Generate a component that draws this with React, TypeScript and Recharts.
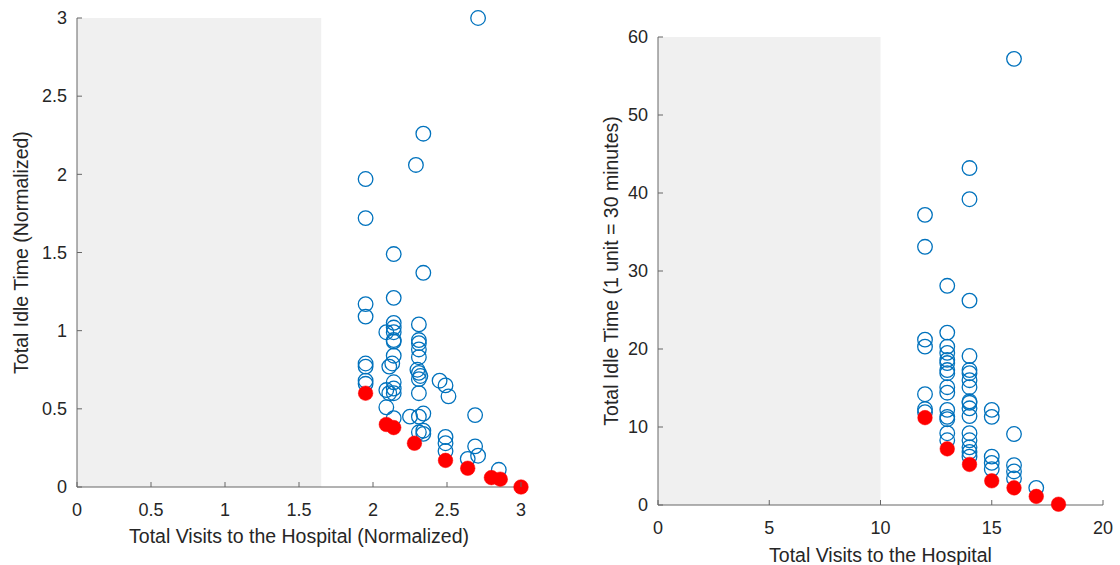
import { ScatterChart, Scatter, XAxis, YAxis, ReferenceArea } from 'recharts';

// left panel: normalized values
const leftBlueX = [
  2.71, 2.34, 2.29, 1.95, 1.95, 2.14, 2.34, 2.14, 1.95, 1.95, 1.95, 1.95, 1.95, 1.95,
  2.09, 2.11, 2.09, 2.11, 2.09, 2.14, 2.14, 2.14, 2.14, 2.14, 2.14, 2.13, 2.14, 2.14,
  2.14, 2.14, 2.31, 2.31, 2.31, 2.31, 2.31, 2.3, 2.31, 2.32, 2.31, 2.31, 2.31, 2.31,
  2.25, 2.34, 2.34, 2.34, 2.45, 2.49, 2.51, 2.49, 2.49, 2.49, 2.69, 2.69, 2.71, 2.64, 2.85,
];
const leftBlueY = [
  3.0, 2.26, 2.06, 1.97, 1.72, 1.49, 1.37, 1.21, 1.17, 1.09, 0.79, 0.77, 0.68, 0.66,
  0.99, 0.77, 0.62, 0.6, 0.51, 1.05, 1.02, 0.99, 0.94, 0.93, 0.84, 0.79, 0.67, 0.63,
  0.6, 0.44, 1.04, 0.94, 0.92, 0.88, 0.83, 0.75, 0.73, 0.71, 0.69, 0.6, 0.45, 0.35,
  0.45, 0.47, 0.36, 0.34, 0.68, 0.65, 0.58, 0.32, 0.28, 0.23, 0.46, 0.26, 0.2, 0.18, 0.11,
];
const leftRedX = [1.95, 2.09, 2.14, 2.28, 2.49, 2.64, 2.8, 2.86, 3.0];
const leftRedY = [0.6, 0.4, 0.38, 0.28, 0.17, 0.12, 0.06, 0.05, 0.0];
const leftShade = [0, 1.65];
const leftXTicks = [0, 0.5, 1, 1.5, 2, 2.5, 3];
const leftYTicks = [0, 0.5, 1, 1.5, 2, 2.5, 3];

// right panel: raw visits / idle units
const rightBlueX = [
  12, 12, 12, 12, 12, 12, 12,
  13, 13, 13, 13, 13, 13, 13, 13, 13, 13, 13, 13, 13, 13, 13,
  14, 14, 14, 14, 14, 14, 14, 14, 14, 14, 14, 14, 14, 14, 14, 14, 14,
  15, 15, 15, 15, 15,
  16, 16, 16, 16, 16,
  17,
];
const rightBlueY = [
  37.2, 33.1, 21.2, 20.3, 14.2, 12.3, 11.9,
  28.1, 22.1, 20.3, 19.5, 18.6, 18.2, 17.3, 16.9, 15.1, 14.4, 12.2, 11.3, 11.0, 9.2, 8.3,
  43.2, 39.2, 26.2, 19.1, 17.3, 16.9, 16.0, 15.1, 13.3, 13.1, 12.4, 11.4, 9.2, 8.3, 7.4, 6.8, 6.2,
  12.2, 11.3, 6.2, 5.4, 4.6,
  57.2, 9.1, 5.1, 4.3, 3.4,
  2.2,
];
const rightRedX = [12, 13, 14, 15, 16, 17, 18];
const rightRedY = [11.2, 7.2, 5.2, 3.1, 2.2, 1.1, 0.1];
const rightShade = [0, 10];
const rightXTicks = [0, 5, 10, 15, 20];
const rightYTicks = [0, 10, 20, 30, 40, 50, 60];

const toPoints = (xs: number[], ys: number[]) => xs.map((x, i) => ({ x, y: ys[i] }));

const FONT = '"Liberation Sans", Arial, Helvetica, sans-serif';
const TEXT = '#262626';
const AXIS = '#666666';
const TICK_FS = 18;
const LABEL_FS = 19.5;

const XTick = (props: any) => {
  const { x, y, payload } = props;
  return (
    <g>
      <line x1={x} x2={x} y1={y - 16} y2={y - 21} stroke={AXIS} />
      <text x={x} y={y} dy="0.71em" textAnchor="middle" fill={TEXT} fontSize={TICK_FS} fontFamily={FONT}>
        {payload.value}
      </text>
    </g>
  );
};

const YTick = (props: any) => {
  const { x, y, payload } = props;
  return (
    <g>
      <line x1={x + 10} x2={x + 15} y1={y} y2={y} stroke={AXIS} />
      <text x={x} y={y} dy="0.35em" textAnchor="end" fill={TEXT} fontSize={TICK_FS} fontFamily={FONT}>
        {payload.value}
      </text>
    </g>
  );
};

const blueCircle = (p: any) => (
  <circle cx={p.cx} cy={p.cy} r={7.3} fill="none" stroke="#0072BD" strokeWidth={1.3} />
);
const redDot = (p: any) => (
  <circle cx={p.cx} cy={p.cy} r={7.3} fill="#ff0000" stroke="#ff0000" strokeWidth={0.5} />
);

type PanelProps = {
  left: number;
  margin: { top: number; right: number; left: number; bottom: number };
  yWidth: number;
  xHeight: number;
  xDomain: number[];
  yDomain: number[];
  xTicks: number[];
  yTicks: number[];
  shade: number[];
  blue: { x: number; y: number }[];
  red: { x: number; y: number }[];
  xLabel: string;
  yLabel: string;
  xLabelOffset: number;
  yLabelOffset: number;
};

function Panel(p: PanelProps) {
  const labelStyle = { fill: TEXT, fontSize: LABEL_FS, fontFamily: FONT };
  return (
    <div style={{ position: 'absolute', left: p.left, top: 0 }}>
      <ScatterChart width={560} height={565} margin={p.margin}>
        <XAxis
          type="number"
          dataKey="x"
          domain={p.xDomain}
          ticks={p.xTicks}
          interval={0}
          height={p.xHeight}
          tickSize={0}
          tickMargin={16}
          tickLine={false}
          tick={<XTick />}
          axisLine={{ stroke: AXIS }}
          label={{ value: p.xLabel, position: 'insideBottom', offset: p.xLabelOffset, style: labelStyle }}
        />
        <YAxis
          type="number"
          dataKey="y"
          domain={p.yDomain}
          ticks={p.yTicks}
          interval={0}
          width={p.yWidth}
          tickSize={0}
          tickMargin={10}
          tickLine={false}
          tick={<YTick />}
          axisLine={{ stroke: AXIS }}
          label={{
            value: p.yLabel,
            angle: -90,
            position: 'insideLeft',
            offset: p.yLabelOffset,
            style: { ...labelStyle, textAnchor: 'middle' },
          }}
        />
        <ReferenceArea
          x1={p.shade[0]}
          x2={p.shade[1]}
          y1={p.yDomain[0]}
          y2={p.yDomain[1]}
          fill="#f0f0f0"
          fillOpacity={1}
          stroke="none"
        />
        <Scatter data={p.blue} shape={blueCircle} isAnimationActive={false} />
        <Scatter data={p.red} shape={redDot} isAnimationActive={false} />
      </ScatterChart>
    </div>
  );
}

export default function App() {
  return (
    <div style={{ position: 'absolute', left: 0, top: 0, width: 1120, height: 565, background: '#fff' }}>
      <Panel
        left={0}
        margin={{ top: 18, right: 39, left: 0, bottom: 0 }}
        yWidth={77}
        xHeight={78}
        xDomain={[0, 3]}
        yDomain={[0, 3]}
        xTicks={leftXTicks}
        yTicks={leftYTicks}
        shade={leftShade}
        blue={toPoints(leftBlueX, leftBlueY)}
        red={toPoints(leftRedX, leftRedY)}
        xLabel="Total Visits to the Hospital (Normalized)"
        yLabel="Total Idle Time (Normalized)"
        xLabelOffset={22}
        yLabelOffset={21}
      />
      <Panel
        left={560}
        margin={{ top: 37, right: 17, left: 0, bottom: 0 }}
        yWidth={98}
        xHeight={60}
        xDomain={[0, 20]}
        yDomain={[0, 60]}
        xTicks={rightXTicks}
        yTicks={rightYTicks}
        shade={rightShade}
        blue={toPoints(rightBlueX, rightBlueY)}
        red={toPoints(rightRedX, rightRedY)}
        xLabel="Total Visits to the Hospital"
        yLabel="Total Idle Time (1 unit = 30 minutes)"
        xLabelOffset={3}
        yLabelOffset={51}
      />
    </div>
  );
}
